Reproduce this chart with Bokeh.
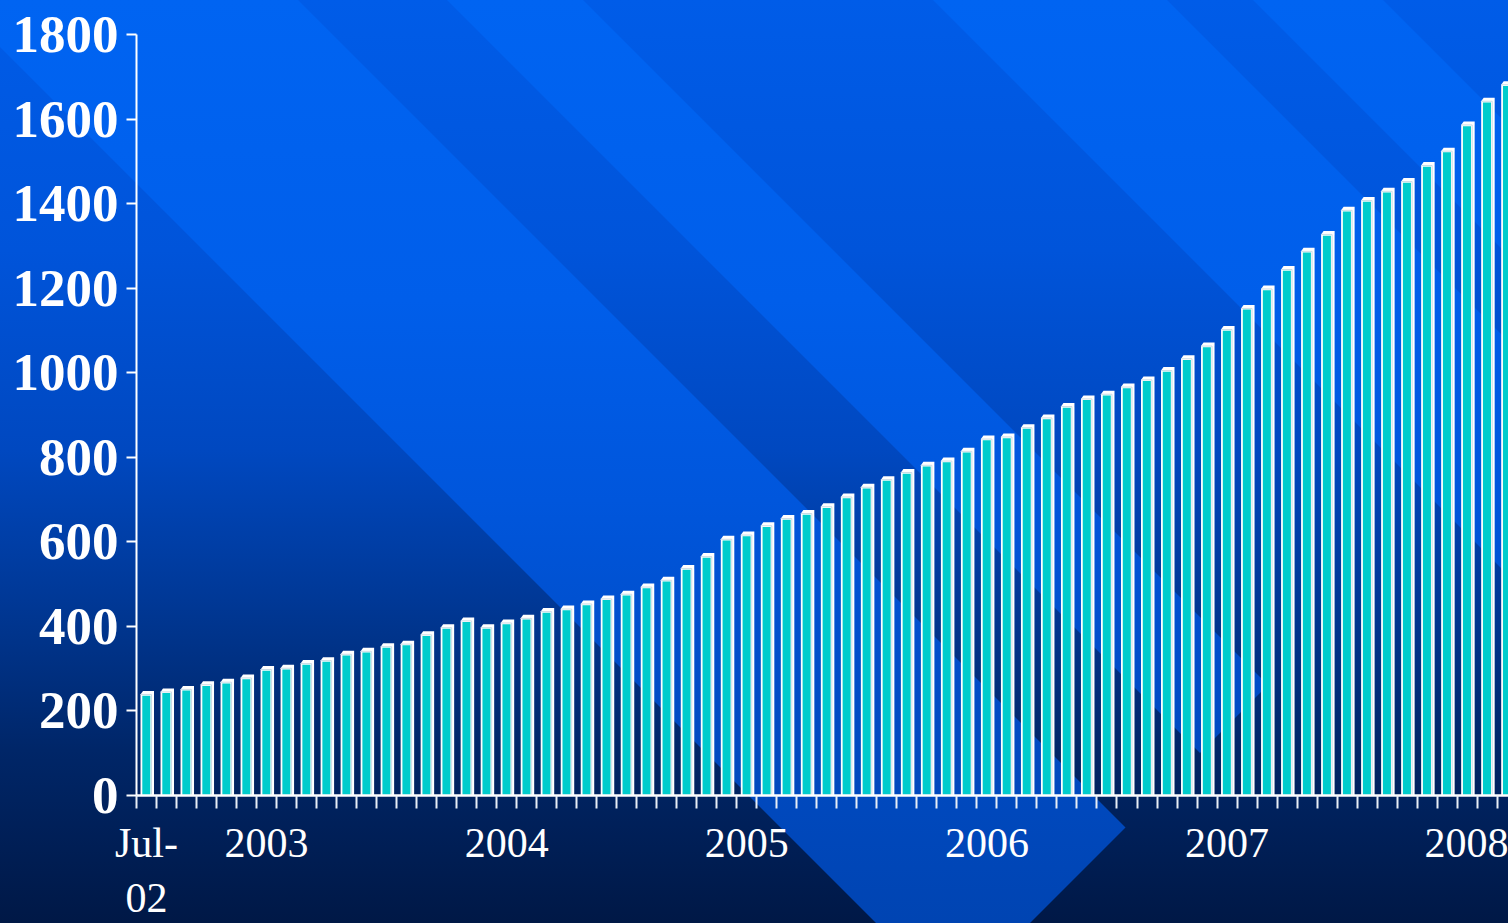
import numpy as np
from urllib.parse import quote
from bokeh.plotting import figure
from bokeh.models import Range1d, FixedTicker
from bokeh.embed import file_html
from bokeh.resources import INLINE

# ---------------- data ----------------
# monthly values, Jul 2002 .. Mar 2008
values = [239, 245, 251, 262, 268, 278, 298, 301, 312, 319, 334, 341,
          352, 358, 380, 397, 413, 397, 408, 419, 435, 441, 453, 465,
          476, 493, 509, 537, 565, 606, 616, 638, 655, 667, 683, 706,
          729, 747, 764, 781, 791, 814, 843, 848, 870, 893, 920, 938,
          949, 966, 983, 1005, 1033, 1063, 1102, 1152, 1198, 1244, 1287, 1327,
          1384, 1407, 1429, 1452, 1490, 1524, 1586, 1642, 1681]
x_label_pos = [0, 6, 18, 30, 42, 54, 66]
x_label_txt = ["Jul-\n02", "2003", "2004", "2005", "2006", "2007", "2008"]
y_ticks = [0, 200, 400, 600, 800, 1000, 1200, 1400, 1600, 1800]

# ---------------- layout ----------------
W, H = 1508, 923
LEFT, BOTTOM, TOP = 136, 126, 14
PX_X = 20.01            # pixels per month
PX_Y = 763.0 / 1800.0   # pixels per unit
x_start = -0.5
x_end = x_start + (W - LEFT) / PX_X
y_end = (H - BOTTOM - TOP) / PX_Y

p = figure(width=W, height=H, output_backend="svg", toolbar_location=None,
           x_range=Range1d(x_start, x_end), y_range=Range1d(0, y_end),
           min_border_left=LEFT, min_border_right=0,
           min_border_top=TOP, min_border_bottom=BOTTOM)

# ---------------- background (decorative, CSS) ----------------
def grad(gid, stops):
    s = "".join(f'<stop offset="{y / H:.4f}" stop-color="rgb({r},{g},{b})"/>'
                for y, (r, g, b) in stops)
    return (f'<linearGradient id="{gid}" gradientUnits="userSpaceOnUse" '
            f'x1="0" y1="0" x2="0" y2="{H}">{s}</linearGradient>')

dark_stops = [(0, (0, 92, 232)), (250, (0, 84, 218)), (450, (0, 72, 192)),
              (600, (0, 56, 150)), (750, (0, 38, 104)), (923, (0, 24, 70))]
light_stops = [(0, (0, 100, 242)), (300, (0, 94, 234)), (500, (0, 86, 220)),
               (700, (0, 76, 198)), (923, (0, 68, 178))]
bands = [(-47, 298, 1953), (447, 583, 1953), (933, 1167, 2150), (1253, 1383, 6000)]

polys = []
for c1, c2, s_cut in bands:
    s_lo = -4000
    pts = [((c1 + s_lo) / 2, (s_lo - c1) / 2), ((c2 + s_lo) / 2, (s_lo - c2) / 2),
           ((c2 + s_cut) / 2, (s_cut - c2) / 2), ((c1 + s_cut) / 2, (s_cut - c1) / 2)]
    polys.append('<polygon fill="url(#l)" points="' +
                 " ".join(f"{a:.1f},{b:.1f}" for a, b in pts) + '"/>')

svg = (f'<svg xmlns="http://www.w3.org/2000/svg" width="{W}" height="{H}" '
       f'viewBox="0 0 {W} {H}" preserveAspectRatio="none"><defs>'
       + grad("d", dark_stops) + grad("l", light_stops) +
       f'</defs><rect x="0" y="0" width="{W}" height="{H}" fill="url(#d)"/>'
       + "".join(polys) + "</svg>")

p.styles = {"background-image": f'url("data:image/svg+xml,{quote(svg)}")',
            "background-size": "100% 100%",
            "background-repeat": "no-repeat"}
p.background_fill_color = None
p.border_fill_color = None
p.outline_line_color = None
p.xgrid.visible = False
p.ygrid.visible = False

# ---------------- bars (pseudo 3D) ----------------
idx = np.arange(len(values))
vals = np.array(values, dtype=float)
dv = 3.5 / PX_Y     # cap depth (vertical)
dx = 2.5 / PX_X     # cap depth (horizontal)
fl, fr = -0.30, 0.25  # front face left/right relative to slot centre

xs = [[i + fl, i + fl, i + fl + dx, i + fr + dx, i + fr + dx] for i in idx]
ys = [[0, v, v + dv, v + dv, 0] for v in vals]
p.patches(xs, ys, fill_color="white", line_color=None)

# subtle edge between front face and side face
p.segment(x0=idx + fr, y0=np.zeros(len(vals)), x1=idx + fr, y1=vals,
          line_color="#c9dbe6", line_width=1)
p.segment(x0=idx + fl, y0=vals, x1=idx + fr, y1=vals,
          line_color="#c9dbe6", line_width=1)

p.vbar(x=idx - 0.01, width=0.40, top=vals - 1.2 / PX_Y, bottom=0,
       fill_color="#00cccc", line_color=None)

# ---------------- axes ----------------
xa = p.xaxis[0]
xa.ticker = FixedTicker(ticks=x_label_pos,
                        minor_ticks=list(np.arange(-0.5, len(values), 1.0)))
xa.major_label_overrides = {k: t for k, t in zip(x_label_pos, x_label_txt)}
xa.axis_line_color = "white"
xa.axis_line_width = 2.5
xa.major_tick_out = 0
xa.major_tick_in = 0
xa.minor_tick_out = 13
xa.minor_tick_in = 0
xa.minor_tick_line_color = "#e8eef5"
xa.minor_tick_line_width = 2
xa.major_label_standoff = 11
xa.major_label_text_font = "Liberation Serif"
xa.major_label_text_font_size = "42px"
xa.major_label_text_color = "white"
xa.major_label_text_line_height = 1.2

ya = p.yaxis[0]
ya.ticker = FixedTicker(ticks=y_ticks, minor_ticks=[])
ya.bounds = (0, 1800)
ya.axis_line_color = "white"
ya.axis_line_width = 2
ya.major_tick_out = 10
ya.major_tick_in = 0
ya.major_tick_line_color = "white"
ya.major_tick_line_width = 2
ya.minor_tick_out = 0
ya.minor_tick_in = 0
ya.major_label_standoff = 8
ya.major_label_text_font = "Liberation Serif"
ya.major_label_text_font_style = "bold"
ya.major_label_text_font_size = "53px"
ya.major_label_text_color = "white"

open("out.html", "w").write(file_html(p, INLINE))
